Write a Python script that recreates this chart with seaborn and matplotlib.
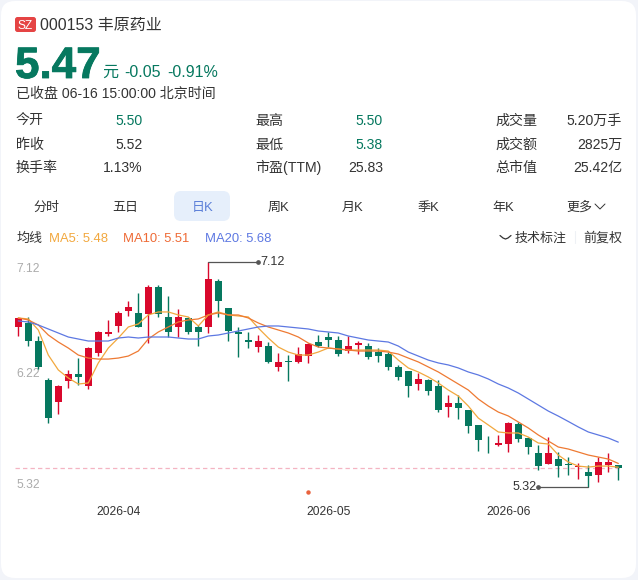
import matplotlib
matplotlib.use("Agg")
import matplotlib.pyplot as plt
import matplotlib.patheffects as pe
from matplotlib.patches import FancyBboxPatch
from matplotlib.transforms import ScaledTranslation
import numpy as np
import pandas as pd
import seaborn as sns

# Daily candles for 000153, oldest first
opens = [6.601, 6.633, 6.487, 6.178, 5.997, 6.171, 6.226, 6.128, 6.391, 6.545,
         6.609, 6.729, 6.708, 6.702, 6.920, 6.678, 6.601, 6.668, 6.596, 6.601,
         6.968, 6.747, 6.556, 6.497, 6.442, 6.447, 6.279, 6.330, 6.319, 6.370,
         6.476, 6.522, 6.498, 6.408, 6.458, 6.448, 6.400, 6.386, 6.277, 6.248,
         6.142, 6.176, 6.128, 5.958, 5.995, 5.937, 5.817, 5.668, 5.657, 5.663,
         5.828, 5.716, 5.596, 5.508, 5.543, 5.503, 5.479, 5.445, 5.418, 5.498, 5.500]
highs = [6.668, 6.681, 6.527, 6.189, 6.136, 6.255, 6.349, 6.437, 6.567, 6.657,
         6.726, 6.809, 6.873, 6.934, 6.934, 6.849, 6.740, 6.681, 6.614, 7.120,
         6.979, 6.747, 6.596, 6.561, 6.535, 6.481, 6.388, 6.375, 6.436, 6.468,
         6.535, 6.557, 6.527, 6.530, 6.490, 6.474, 6.429, 6.402, 6.296, 6.251,
         6.229, 6.182, 6.176, 6.056, 6.056, 5.937, 5.817, 5.729, 5.737, 5.844,
         5.844, 5.724, 5.657, 5.724, 5.604, 5.564, 5.511, 5.498, 5.559, 5.596, 5.500]
lows = [6.529, 6.450, 6.266, 5.830, 5.902, 6.109, 6.136, 6.101, 6.370, 6.527,
        6.561, 6.689, 6.601, 6.468, 6.681, 6.521, 6.521, 6.540, 6.450, 6.548,
        6.681, 6.489, 6.356, 6.428, 6.402, 6.309, 6.250, 6.170, 6.314, 6.309,
        6.442, 6.442, 6.370, 6.389, 6.381, 6.341, 6.317, 6.259, 6.176, 6.038,
        6.096, 6.059, 5.924, 5.878, 5.868, 5.751, 5.610, 5.591, 5.652, 5.599,
        5.684, 5.588, 5.458, 5.506, 5.405, 5.418, 5.386, 5.320, 5.359, 5.445, 5.380]
closes = [6.668, 6.490, 6.277, 5.870, 6.128, 6.226, 6.197, 6.428, 6.559, 6.559,
          6.708, 6.758, 6.601, 6.920, 6.702, 6.561, 6.678, 6.561, 6.561, 6.979,
          6.809, 6.569, 6.540, 6.481, 6.487, 6.319, 6.317, 6.317, 6.386, 6.466,
          6.447, 6.495, 6.381, 6.448, 6.469, 6.362, 6.370, 6.280, 6.197, 6.128,
          6.184, 6.088, 5.937, 5.995, 5.950, 5.812, 5.697, 5.663, 5.676, 5.836,
          5.708, 5.639, 5.490, 5.596, 5.487, 5.498, 5.487, 5.407, 5.524, 5.520, 5.470]

# Moving averages at the same sessions
ma5 = [6.671, 6.663, 6.575, 6.375, 6.256, 6.192, 6.144, 6.152, 6.312, 6.431,
       6.511, 6.599, 6.623, 6.695, 6.719, 6.719, 6.695, 6.679, 6.607, 6.695,
       6.719, 6.695, 6.687, 6.679, 6.591, 6.511, 6.439, 6.399, 6.375, 6.375,
       6.399, 6.431, 6.423, 6.415, 6.415, 6.415, 6.415, 6.407, 6.335, 6.272,
       6.240, 6.200, 6.152, 6.096, 6.048, 5.968, 5.872, 5.817, 5.761, 5.753,
       5.753, 5.721, 5.673, 5.665, 5.577, 5.521, 5.489, 5.481, 5.489, 5.489, 5.480]
ma10 = [6.671, 6.655, 6.615, 6.535, 6.479, 6.431, 6.375, 6.351, 6.343, 6.343,
        6.351, 6.367, 6.407, 6.503, 6.559, 6.599, 6.639, 6.655, 6.663, 6.695,
        6.711, 6.695, 6.695, 6.671, 6.631, 6.599, 6.575, 6.551, 6.519, 6.471,
        6.439, 6.431, 6.423, 6.415, 6.407, 6.407, 6.407, 6.399, 6.383, 6.351,
        6.320, 6.280, 6.240, 6.192, 6.144, 6.096, 6.024, 5.968, 5.920, 5.889,
        5.841, 5.793, 5.737, 5.689, 5.641, 5.625, 5.601, 5.577, 5.561, 5.545, 5.510]
ma20 = [6.647, 6.639, 6.615, 6.583, 6.551, 6.519, 6.503, 6.487, 6.487, 6.487,
        6.511, 6.519, 6.511, 6.519, 6.519, 6.519, 6.511, 6.503, 6.503, 6.527,
        6.535, 6.551, 6.567, 6.583, 6.599, 6.607, 6.607, 6.599, 6.591, 6.583,
        6.567, 6.559, 6.551, 6.527, 6.511, 6.495, 6.487, 6.479, 6.447, 6.399,
        6.367, 6.335, 6.312, 6.296, 6.272, 6.240, 6.216, 6.184, 6.144, 6.112,
        6.072, 6.024, 5.976, 5.928, 5.888, 5.845, 5.801, 5.761, 5.737, 5.713, 5.680]

month_labels = ["2026-04", "2026-05", "2026-06"]
month_sessions = [10, 31, 49]
price_labels = ["5.32", "6.22", "7.12"]
price_levels = [5.32, 6.22, 7.12]
event_session = 29
last_close = 5.47

quote_rows = [
    ("今开", "5.50", "最高", "5.50", "成交量", "5.20万手"),
    ("昨收", "5.52", "最低", "5.38", "成交额", "2825万"),
    ("换手率", "1.13%", "市盈(TTM)", "25.83", "总市值", "25.42亿"),
]
period_tabs = ["分时", "五日", "日K", "周K", "月K", "季K", "年K", "更多"]

RED = "#D9082C"
GREEN = "#06785F"
INK = "#333333"
MA5_C, MA10_C, MA20_C = "#F2A83E", "#EE7A33", "#5D78E2"
W, H = 638, 580

sns.set_theme(style="white")
plt.rcParams["font.family"] = ["Liberation Sans", "Noto Sans CJK SC", "DejaVu Sans"]

fig = plt.figure(figsize=(W / 100, H / 100), dpi=100, facecolor="#F2F4F9")


def px(size):
    """Font size in points for a pixel height at 100 dpi."""
    return size * 0.72


# Page layer in pixel coordinates for the card and the quote header
page = fig.add_axes([0, 0, 1, 1], zorder=0)
page.set_xlim(0, W)
page.set_ylim(H, 0)
page.axis("off")
page.add_patch(FancyBboxPatch((1, 1), W - 3, H - 3, boxstyle="round,pad=0,rounding_size=14",
                              fc="white", ec="none"))


def line(x, baseline, string, color=INK, size=14, ha="left"):
    """One line of header text set on a shared baseline."""
    return page.text(x, baseline, string, color=color, fontsize=px(size), ha=ha, va="baseline")


page.add_patch(FancyBboxPatch((15, 17), 21, 15, boxstyle="round,pad=0,rounding_size=2.5",
                              fc="#E54444", ec="none"))
line(25.5, 29, "SZ", color="white", size=12, ha="center")
line(40, 30, "000153 丰原药业", size=16)
big_price = line(15, 78, "5.47", color=GREEN, size=44)
big_price.set_fontweight("bold")
big_price.set_path_effects([pe.withStroke(linewidth=0.6, foreground=GREEN)])
line(102, 77, "元", color=GREEN, size=16)
line(124, 77, "-0.05", color=GREEN, size=16)
line(167, 77, "-0.91%", color=GREEN, size=16)
line(16, 98, "已收盘 06-16 15:00:00 北京时间")

for baseline, (a, av, b, bv, c, cv) in zip([125, 149, 172], quote_rows):
    line(16, baseline, a)
    line(143, baseline, av, color=GREEN if a == "今开" else INK, ha="right")
    line(255, baseline, b)
    line(383, baseline, bv, color=GREEN if b in ("最高", "最低") else INK, ha="right")
    line(495, baseline, c)
    line(622, baseline, cv, ha="right")

page.add_patch(FancyBboxPatch((174, 191), 56, 30, boxstyle="round,pad=0,rounding_size=7",
                              fc="#E6EFFB", ec="none"))
for tab_x, tab in zip([46, 125, 203, 278, 353, 428, 503, 579], period_tabs):
    line(tab_x, 211, tab, color="#5B7FD8" if tab == "日K" else INK, size=13, ha="center")
page.plot([595, 600, 605], [204, 209, 204], color=INK, lw=0.7)

line(16, 242, "均线", size=13)
line(49, 242, "MA5: 5.48", color=MA5_C, size=13)
line(123, 242, "MA10: 5.51", color="#EE6A35", size=13)
line(205, 242, "MA20: 5.68", color=MA20_C, size=13)
page.plot([500, 503, 505.5, 508, 511], [235.5, 238, 239, 238, 235.5], color=INK, lw=0.9)
line(515, 242, "技术标注", size=13)
page.plot([575, 575], [231, 243], color="#EEF1F5", lw=0.8)
line(622, 242, "前复权", size=13, ha="right")

# Price panel: session numbers run along x, prices on y
left_px, right_px, top_px, bottom_px = 8, 630, 250, 497
ax = fig.add_axes([left_px / W, 1 - bottom_px / H, (right_px - left_px) / W, (bottom_px - top_px) / H],
                  zorder=1)
ax.patch.set_alpha(0)
sns.despine(ax=ax, left=True, bottom=True)

df = pd.DataFrame({"session": np.arange(len(closes)), "open": opens, "high": highs, "low": lows,
                   "close": closes, "ma5": ma5, "ma10": ma10, "ma20": ma20})
df["color"] = np.where(df["close"] >= df["open"], RED, GREEN)

ax.vlines(df["session"], df["low"], df["high"], colors=df["color"], lw=1.0, zorder=2)
ax.bar(df["session"], (df["close"] - df["open"]).abs(), bottom=df[["open", "close"]].min(axis=1),
       width=0.7, color=df["color"], linewidth=0, zorder=2)

for column, colour in [("ma5", MA5_C), ("ma10", MA10_C), ("ma20", MA20_C)]:
    sns.lineplot(data=df, x="session", y=column, color=colour, lw=0.9, ax=ax, zorder=3, legend=False)

ax.hlines(last_close, -0.3, 60.4, colors="#F4B4C2", lw=0.9, linestyles=(0, (3.5, 2.5)), zorder=1)

# Extreme markers for the highest high and the lowest low
hi_i = int(np.argmax(highs))
lo_i = int(np.argmin(lows))
ax.plot([hi_i, hi_i + 5], [highs[hi_i]] * 2, color="#555555", lw=0.9, zorder=4)
ax.plot([hi_i + 5], [highs[hi_i]], "o", color="#555555", ms=2.4, zorder=4)
ax.annotate(f"{highs[hi_i]:.2f}", (hi_i + 5, highs[hi_i]), xytext=(1.5, 0), textcoords="offset points",
            color=INK, fontsize=px(12.5), va="center")
ax.plot([lo_i - 5, lo_i], [lows[lo_i]] * 2, color="#555555", lw=0.9, zorder=4)
ax.plot([lo_i - 5], [lows[lo_i]], "o", color="#555555", ms=2.4, zorder=4)
ax.annotate(f"{lows[lo_i]:.2f}", (lo_i - 5, lows[lo_i]), xytext=(-1, 0), textcoords="offset points",
            color=INK, fontsize=px(12.5), ha="right", va="center")

ax.plot([event_session], [5.282], "o", color="#E9623D", ms=3.2, mec="none", zorder=4, clip_on=False)

ax.set_xlim((left_px - 18.3) / 10, (right_px - 18.3) / 10)
ax.set_ylim(9.2086 - bottom_px / 125.3, 9.2086 - top_px / 125.3)
ax.set_xlabel("")
ax.set_ylabel("")
ax.set_xticks(month_sessions, month_labels)
ax.tick_params(axis="x", length=0, pad=6.5, labelsize=px(12), labelcolor=INK)
ax.set_yticks(price_levels, price_labels)
ax.tick_params(axis="y", length=0, pad=-5.8, labelsize=px(12), labelcolor="#ABABAB")
for label, align, nudge in zip(ax.get_yticklabels(), ["bottom", "center", "top"], [-4, 0, -1]):
    label.set_ha("left")
    label.set_va(align)
    label.set_transform(label.get_transform() + ScaledTranslation(0, nudge / 100, fig.dpi_scale_trans))
ax.grid(False)

fig.savefig("out.png", dpi=100, facecolor=fig.get_facecolor())
